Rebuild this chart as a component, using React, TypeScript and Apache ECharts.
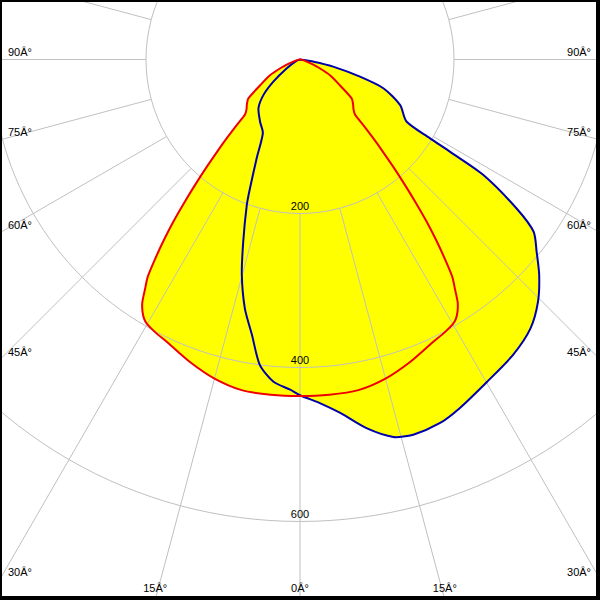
import React, { useEffect, useRef } from "react";
import * as echarts from "echarts";

// radius tick labels (cd/klm)
const radiusTicks = [200, 400, 600];
// side angle labels (left and right edges)
const sideAngles = [90, 75, 60, 45, 30];
const sideAngleLabels = ["90Â°", "75Â°", "60Â°", "45Â°", "30Â°"];
// bottom angle labels
const bottomAngles = [15, 0, -15];
const bottomAngleLabels = ["15Â°", "0Â°", "15Â°"];

// C0-C180 plane (symmetric) : gamma (deg from nadir) -> intensity
const redGamma = [0, 5, 10, 15, 20, 25, 28, 30, 31, 32, 33, 34, 35, 36, 37, 38, 39, 40, 41, 42, 43, 44, 45, 47, 50, 53, 57, 62, 66, 70, 75, 85, 90];
const redI = [437, 437, 436, 429, 418, 406, 401, 397, 393, 386, 376, 360, 345, 320, 294, 267, 238, 210, 184, 160, 138, 118, 101, 95, 90, 84, 62, 45, 28, 14, 6, 2, 0];

// C90-C270 plane, left half
const blueLeftGamma = [0, 1.7, 4.7, 7.5, 9.9, 12.5, 15.1, 17.3, 20.1, 21.2, 23.7, 26.8, 32.7, 40.5, 45.9, 50.3, 56.5, 70, 90];
const blueLeftI = [436, 429, 420, 400, 363, 331, 290, 248, 201, 180, 140, 107, 96, 83, 66, 45, 21, 5, 0];

// C90-C270 plane, right half
const blueRightGamma = [0, 3.3, 6.5, 10.3, 13.9, 16.8, 21, 24.6, 30.1, 35.8, 40.6, 44.5, 48, 50.9, 53.6, 55.5, 57.8, 58.4, 58.8, 59.8, 65.5, 70.9, 74, 77.8, 80.6, 90];
const blueRightI = [436, 447, 462, 487, 505, 509, 506, 498, 484, 473, 460, 441, 418, 396, 377, 341, 281, 229, 197, 160, 143, 115, 81, 44, 18, 0];

const CX = 300;
const CY = 59.5;
const PX_PER_UNIT = 0.77;
const FONT = '11px "Liberation Sans", Arial, sans-serif';
const SMOOTH = 0.25;

function shapePoints(api: any, lg: number[], li: number[], rg: number[], ri: number[]) {
  const pts: number[][] = [];
  for (let i = rg.length - 1; i >= 0; i--) pts.push(api.coord([ri[i], 360 - rg[i]]));
  for (let i = 1; i < lg.length; i++) pts.push(api.coord([li[i], lg[i]]));
  return pts;
}

export default function App() {
  const ref = useRef<HTMLDivElement>(null);
  useEffect(() => {
    if (!ref.current) return;
    const chart = echarts.init(ref.current, undefined, { renderer: "svg" });

    const graphics: any[] = [];
    const rad = Math.PI / 180;
    const txt = (text: string, x: number, y: number, align: string) => ({
      type: "text", x, y, z: 10,
      style: { text, fill: "#000", font: FONT, textAlign: align, align, textVerticalAlign: "bottom", verticalAlign: "bottom" },
    });
    sideAngles.forEach((a, i) => {
      const t = CX / Math.sin(a * rad);
      const yInt = CY + t * Math.cos(a * rad);
      graphics.push(txt(sideAngleLabels[i], 8, yInt - 2, "left"));
      graphics.push(txt(sideAngleLabels[i], 591, yInt - 2, "right"));
    });
    bottomAngles.forEach((a, i) => {
      const t = (600 - CY) / Math.cos(a * rad);
      const x = CX - t * Math.sin(a * rad);
      graphics.push(txt(bottomAngleLabels[i], x, 593, "center"));
    });
    // frame
    graphics.push({ type: "rect", z: 20, shape: { x: 0, y: 0, width: 600, height: 2 }, style: { fill: "#000" } });
    graphics.push({ type: "rect", z: 20, shape: { x: 0, y: 0, width: 2, height: 600 }, style: { fill: "#000" } });
    graphics.push({ type: "rect", z: 20, shape: { x: 596, y: 0, width: 4, height: 600 }, style: { fill: "#000" } });
    graphics.push({ type: "rect", z: 20, shape: { x: 0, y: 596, width: 600, height: 4 }, style: { fill: "#000" } });

    const inner = 200 * PX_PER_UNIT;
    const outer = 1000 * PX_PER_UNIT;

    chart.setOption({
      animation: false,
      backgroundColor: "#fff",
      polar: { center: [CX, CY], radius: [inner, outer] },
      angleAxis: {
        type: "value", min: 0, max: 360, interval: 15, startAngle: 270, clockwise: true, z: 2,
        axisLine: { show: false }, axisTick: { show: false }, axisLabel: { show: false },
        splitLine: { show: true, lineStyle: { color: "#c0c0c0", width: 1 } },
      },
      radiusAxis: {
        type: "value", min: 200, max: 1000, interval: 200, z: 2,
        axisLine: { show: false }, axisTick: { show: false }, axisLabel: { show: false },
        splitLine: { show: true, lineStyle: { color: "#c0c0c0", width: 1 } },
      },
      series: [
        {
          type: "custom", coordinateSystem: "polar", z: 1, clip: false, silent: true,
          data: [[0, 0]],
          renderItem: (params: any, api: any) => ({
            type: "group",
            children: [
              { type: "polygon", shape: { points: shapePoints(api, redGamma, redI, redGamma, redI), smooth: SMOOTH }, style: { fill: "#ffff00", stroke: "none" } },
              { type: "polygon", shape: { points: shapePoints(api, blueLeftGamma, blueLeftI, blueRightGamma, blueRightI), smooth: SMOOTH }, style: { fill: "#ffff00", stroke: "none" } },
            ],
          }),
        },
        {
          type: "custom", coordinateSystem: "polar", z: 3, clip: false, silent: true,
          data: [[0, 0]],
          renderItem: (params: any, api: any) => ({
            type: "group",
            children: [
              { type: "polygon", shape: { points: shapePoints(api, blueLeftGamma, blueLeftI, blueRightGamma, blueRightI), smooth: SMOOTH }, style: { fill: "none", stroke: "#0000aa", lineWidth: 2 } },
              { type: "polygon", shape: { points: shapePoints(api, redGamma, redI, redGamma, redI), smooth: SMOOTH }, style: { fill: "none", stroke: "#ee0000", lineWidth: 2 } },
            ],
          }),
        },
        {
          type: "custom", coordinateSystem: "polar", z: 4, clip: false, silent: true,
          data: radiusTicks.map((v) => [v, 0]),
          renderItem: (params: any, api: any) => {
            const v = api.value(0);
            const p = api.coord([v, api.value(1)]);
            return {
              type: "text", x: p[0], y: p[1] - 2,
              style: { text: String(v), fill: "#000", font: FONT, textAlign: "center", align: "center", textVerticalAlign: "bottom", verticalAlign: "bottom" },
            };
          },
        },
      ],
      graphic: graphics,
    });
    return () => chart.dispose();
  }, []);
  return <div ref={ref} style={{ position: "fixed", left: 0, top: 0, width: 600, height: 600 }} />;
}
